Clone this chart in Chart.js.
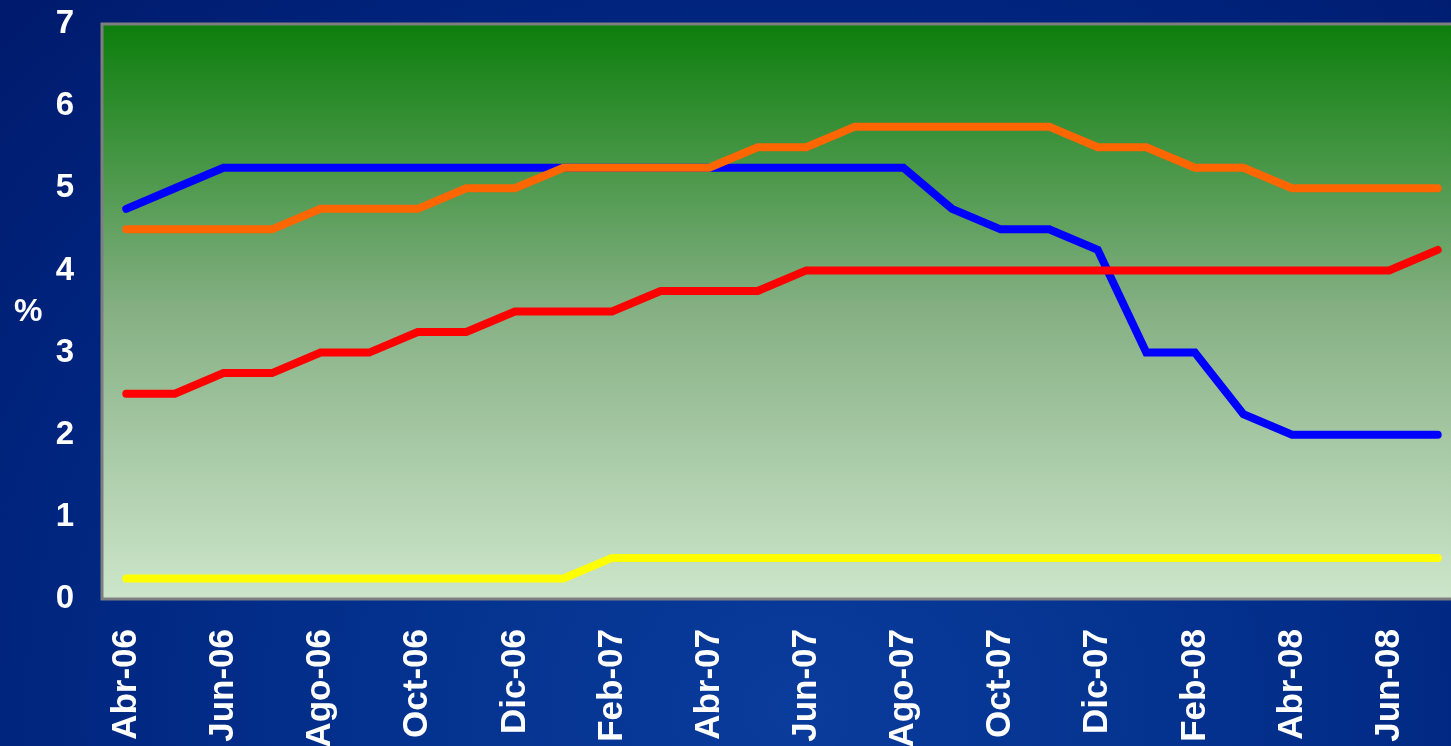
<!DOCTYPE html>
<html lang="es">
<head>
<meta charset="UTF-8">
<title>Tasas de interés</title>
<script src="https://cdn.jsdelivr.net/npm/chart.js"></script>
<style>
    html, body {
        margin: 0;
        padding: 0;
        width: 1451px;
        height: 746px;
        overflow: hidden;
    }
    body {
        background: radial-gradient(ellipse at 55% 95%, #0a3c9c 0%, #03308c 40%, #00237c 75%, #001a6c 100%);
        font-family: 'Liberation Sans', Arial, sans-serif;
        position: relative;
    }
    .chart-box {
        position: absolute;
        left: 0;
        top: 0;
        width: 1462px;
        height: 746px;
    }
    #pct {
        position: absolute;
        left: 14px;
        top: 292px;
        color: #fff;
        font-weight: bold;
        font-size: 32px;
    }
</style>
</head>
<body>
<div class="chart-box"><canvas id="grafico"></canvas></div>
<div id="pct">%</div>

<script>
// meses (abr-06 a jul-08)
const meses = ['Abr-06','May-06','Jun-06','Jul-06','Ago-06','Sep-06','Oct-06','Nov-06','Dic-06',
    'Ene-07','Feb-07','Mar-07','Abr-07','May-07','Jun-07','Jul-07','Ago-07','Sep-07','Oct-07','Nov-07','Dic-07',
    'Ene-08','Feb-08','Mar-08','Abr-08','May-08','Jun-08','Jul-08'];

const serieAzul = [4.75,5.0,5.25,5.25,5.25,5.25,5.25,5.25,5.25,
    5.25,5.25,5.25,5.25,5.25,5.25,5.25,5.25,4.75,4.5,4.5,4.25,
    3.0,3.0,2.25,2.0,2.0,2.0,2.0];

const serieNaranja = [4.5,4.5,4.5,4.5,4.75,4.75,4.75,5.0,5.0,
    5.25,5.25,5.25,5.25,5.5,5.5,5.75,5.75,5.75,5.75,5.75,5.5,
    5.5,5.25,5.25,5.0,5.0,5.0,5.0];

const serieRoja = [2.5,2.5,2.75,2.75,3.0,3.0,3.25,3.25,3.5,
    3.5,3.5,3.75,3.75,3.75,4.0,4.0,4.0,4.0,4.0,4.0,4.0,
    4.0,4.0,4.0,4.0,4.0,4.0,4.25];

const serieAmarilla = [0.25,0.25,0.25,0.25,0.25,0.25,0.25,0.25,0.25,
    0.25,0.5,0.5,0.5,0.5,0.5,0.5,0.5,0.5,0.5,0.5,0.5,
    0.5,0.5,0.5,0.5,0.5,0.5,0.5];

const ticksY = [0, 1, 2, 3, 4, 5, 6, 7];

// fondo degradado del area del grafico + borde gris
const fondoPlot = {
    id: 'fondoPlot',
    beforeDraw(chart) {
        const { ctx, chartArea: a } = chart;
        const g = ctx.createLinearGradient(0, a.top, 0, a.bottom);
        g.addColorStop(0, '#0c7e0c');
        g.addColorStop(0.5, '#86b084');
        g.addColorStop(1, '#cde6cb');
        ctx.save();
        ctx.fillStyle = g;
        ctx.fillRect(a.left, a.top, a.right - a.left, a.bottom - a.top);
        ctx.strokeStyle = '#7f7f7f';
        ctx.lineWidth = 3;
        ctx.strokeRect(a.left, a.top, a.right - a.left, a.bottom - a.top);
        ctx.restore();
    }
};

function serie(data, color, orden) {
    return {
        data: data,
        borderColor: color,
        backgroundColor: color,
        borderWidth: 8,
        pointRadius: 0,
        tension: 0,
        borderCapStyle: 'round',
        borderJoinStyle: 'miter',
        order: orden
    };
}

new Chart(document.getElementById('grafico'), {
    type: 'line',
    data: {
        labels: meses,
        datasets: [
            serie(serieAzul, '#0000ff', 4),
            serie(serieNaranja, '#ff6600', 1),
            serie(serieRoja, '#ff0000', 2),
            serie(serieAmarilla, '#ffff00', 3)
        ]
    },
    options: {
        responsive: true,
        maintainAspectRatio: false,
        animation: false,
        layout: { padding: { top: 24, right: 0, left: 0, bottom: 0 } },
        plugins: {
            legend: { display: false },
            tooltip: { enabled: false }
        },
        scales: {
            x: {
                offset: true,
                grid: { display: false },
                border: { display: false },
                ticks: {
                    autoSkip: false,
                    minRotation: 90,
                    maxRotation: 90,
                    padding: 22,
                    color: '#ffffff',
                    font: { family: "'Liberation Sans', Arial", size: 35, weight: 'bold' },
                    callback: function(v, i) { return i % 2 === 0 ? meses[i] : ''; }
                },
                afterFit(scale) {
                    scale.height = 147;
                    scale.paddingLeft = 0;
                    scale.paddingRight = 0;
                }
            },
            y: {
                min: 0,
                max: 7,
                afterBuildTicks(scale) { scale.ticks = ticksY.map(v => ({ value: v })); },
                grid: { display: false },
                border: { display: false },
                ticks: {
                    padding: 20,
                    color: '#ffffff',
                    font: { family: "'Liberation Sans', Arial", size: 33, weight: 'bold' }
                },
                afterFit(scale) {
                    scale.width = 102;
                    scale.paddingTop = 0;
                    scale.paddingBottom = 0;
                }
            }
        }
    },
    plugins: [fondoPlot]
});
</script>
</body>
</html>
